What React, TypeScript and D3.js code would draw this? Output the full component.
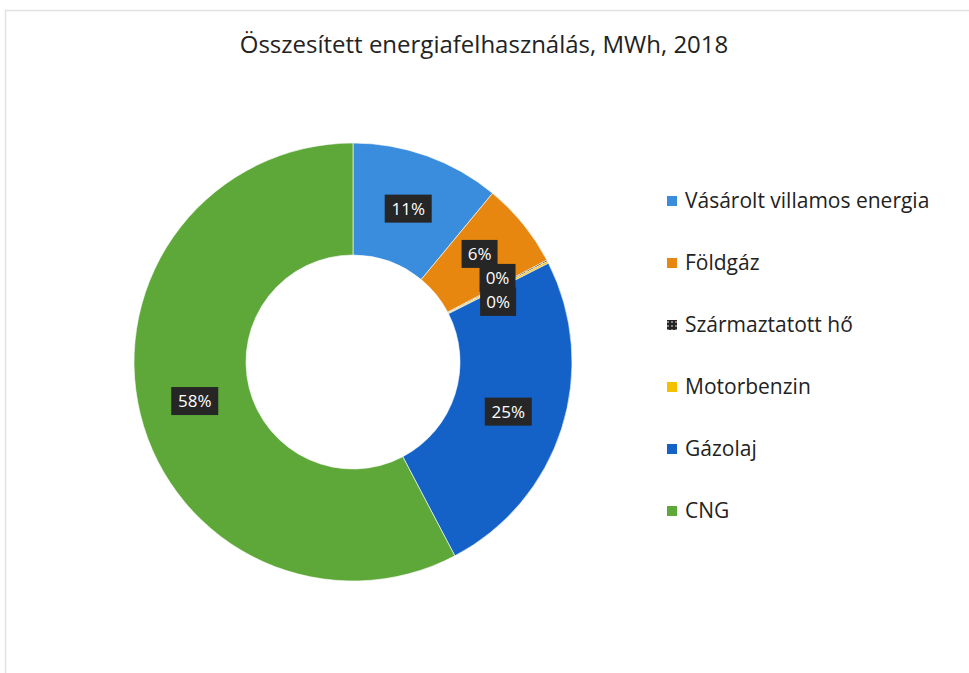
import React, { useEffect, useRef } from 'react';
import * as d3 from 'd3';

const title = 'Összesített energiafelhasználás, MWh, 2018';
const categories = ['Vásárolt villamos energia', 'Földgáz', 'Származtatott hő', 'Motorbenzin', 'Gázolaj', 'CNG'];
const values = [11.0, 6.3, 0.1, 0.15, 24.75, 57.7];
const colors = ['#3a8ddc', '#e8870f', 'url(#hatch)', '#f5c000', '#1462c8', '#5ea83a'];

const W = 969;
const H = 673;

const App = () => {
  const svgRef = useRef<SVGSVGElement>(null);

  useEffect(() => {
    if (!svgRef.current) return;
    const svg = d3.select(svgRef.current);
    svg.selectAll('*').remove();

    const defs = svg.append('defs');
    const pat = defs.append('pattern')
      .attr('id', 'hatch')
      .attr('width', 4)
      .attr('height', 4)
      .attr('patternUnits', 'userSpaceOnUse');
    pat.append('rect').attr('width', 4).attr('height', 4).attr('fill', '#222');
    pat.append('circle').attr('cx', 1).attr('cy', 1).attr('r', 0.8).attr('fill', '#fff');

    // frame (only left/top edges visible in the crop)
    svg.append('path')
      .attr('d', `M5.5,${H}V10.5H${W}`)
      .attr('fill', 'none')
      .attr('stroke', '#e2e2e2')
      .attr('stroke-width', 1.5);

    svg.append('text')
      .attr('x', 484)
      .attr('y', 53)
      .attr('text-anchor', 'middle')
      .attr('font-family', 'Open Sans, sans-serif')
      .attr('font-size', 24)
      .attr('fill', '#222')
      .text(title);

    const cx = 353;
    const cy = 362;
    const outerR = 219;
    const innerR = 107;

    const pie = d3.pie<number>().sort(null).value(d => d);
    const arcs = pie(values);
    const arc = d3.arc<d3.PieArcDatum<number>>().innerRadius(innerR).outerRadius(outerR);

    const g = svg.append('g').attr('transform', `translate(${cx},${cy})`);

    g.selectAll('path.slice')
      .data(arcs)
      .enter()
      .append('path')
      .attr('class', 'slice')
      .attr('d', arc)
      .attr('fill', (d, i) => colors[i])
      .attr('stroke', '#fff')
      .attr('stroke-width', 0.6);

    // data labels
    const total = d3.sum(values);
    const labelArc = d3.arc<d3.PieArcDatum<number>>().innerRadius(163).outerRadius(163);
    const fmt = d3.format('.0%');
    const labels = arcs.map((a, i) => {
      const [x, y] = labelArc.centroid(a);
      const text = fmt(values[i] / total);
      const w = text.length * 11 + 14;
      return { x, y, w, h: 28, text };
    });

    // push overlapping labels apart vertically
    for (let it = 0; it < 100; it++) {
      for (let i = 0; i < labels.length; i++) {
        for (let j = i + 1; j < labels.length; j++) {
          const a = labels[i];
          const b = labels[j];
          const ox = (a.w + b.w) / 2 + 2 - Math.abs(a.x - b.x);
          const oy = a.h - 4 - Math.abs(a.y - b.y);
          if (ox > 0 && oy > 0) {
            const s = a.y <= b.y ? 1 : -1;
            a.y -= (s * oy) / 2;
            b.y += (s * oy) / 2;
          }
        }
      }
    }

    const lg = g.selectAll('g.lbl')
      .data(labels)
      .enter()
      .append('g')
      .attr('class', 'lbl')
      .attr('transform', d => `translate(${d.x},${d.y})`);

    lg.append('rect')
      .attr('x', d => -d.w / 2)
      .attr('y', d => -d.h / 2)
      .attr('width', d => d.w)
      .attr('height', d => d.h)
      .attr('fill', '#262626');

    lg.append('text')
      .attr('text-anchor', 'middle')
      .attr('dy', '0.36em')
      .attr('font-family', 'Open Sans, sans-serif')
      .attr('font-size', 17)
      .attr('fill', '#fff')
      .text(d => d.text);

    // legend
    const ly = d3.scalePoint<string>().domain(categories).range([201, 511]);
    const leg = svg.selectAll('g.leg')
      .data(categories)
      .enter()
      .append('g')
      .attr('class', 'leg')
      .attr('transform', d => `translate(667,${ly(d)})`);

    leg.append('rect')
      .attr('x', 0)
      .attr('y', -5)
      .attr('width', 10)
      .attr('height', 10)
      .attr('fill', (d, i) => colors[i]);

    leg.append('text')
      .attr('x', 18)
      .attr('dy', '0.35em')
      .attr('font-family', 'Open Sans, sans-serif')
      .attr('font-size', 21)
      .attr('fill', '#222')
      .text(d => d);
  }, []);

  return (
    <svg
      ref={svgRef}
      width={W}
      height={H}
      style={{ position: 'absolute', left: 0, top: 0, background: '#fff' }}
    />
  );
};

export default App;
